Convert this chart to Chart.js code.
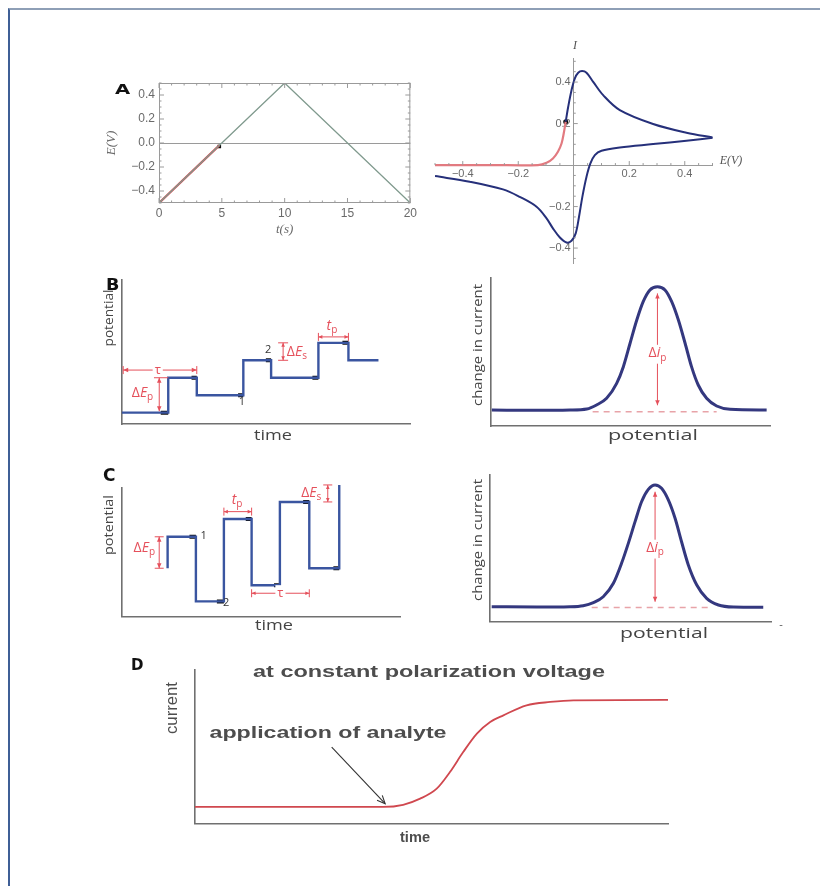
<!DOCTYPE html>
<html>
<head>
<meta charset="utf-8">
<script src="https://cdn.jsdelivr.net/npm/chart.js@4.4.1/dist/chart.umd.min.js"></script>
<style>
body{margin:0;background:#fff;width:820px;height:886px;position:relative;overflow:hidden}
.frame{position:absolute;left:8px;top:8px;width:830px;height:900px;border-top:2px solid #8e9fb6;border-left:2px solid #3f5f96}
canvas{position:absolute}
.tag{position:absolute;font-family:"DejaVu Sans",sans-serif;font-weight:bold;color:#111;line-height:1.2;transform-origin:left top;z-index:5}
</style>
</head>
<body>
<div class="frame"></div>

<canvas id="a1" width="320" height="170" style="left:100px;top:70px"></canvas>
<canvas id="a2" width="350" height="250" style="left:420px;top:30px"></canvas>
<canvas id="b1" width="320" height="180" style="left:100px;top:270px"></canvas>
<canvas id="b2" width="320" height="180" style="left:470px;top:270px"></canvas>
<canvas id="c1" width="320" height="190" style="left:100px;top:460px"></canvas>
<canvas id="c2" width="320" height="190" style="left:470px;top:460px"></canvas>
<canvas id="d1" width="580" height="200" style="left:110px;top:652px"></canvas>

<div class="tag" style="left:115px;top:81px;font-size:14px;transform:scaleX(1.4)">A</div>
<div class="tag" style="left:106px;top:275px;font-size:16px;transform:scaleX(1.1)">B</div>
<div class="tag" style="left:103px;top:465px;font-size:17px">C</div>
<div class="tag" style="left:131px;top:656px;font-size:15px">D</div>

<script>
// A: linear sweep E(t) and the cyclic voltammogram I(E)
const sweepT = [0, 10, 20];
const sweepE = [-0.5, 0.5, -0.5];
const sweepRedT = [0, 4.8];
const sweepRedE = [-0.5, -0.02];
const sweepDot = [4.8, -0.03];
const tTicks = [0, 5, 10, 15, 20];
const eTicks = [-0.4, -0.2, 0, 0.2, 0.4];

const cvRedE = [-0.5, -0.3, -0.129, -0.098, -0.075, -0.057, -0.044, -0.036, -0.029];
const cvRedI = [0, 0, 0, 0.011, 0.032, 0.064, 0.104, 0.153, 0.209];
const cvFwdE = [-0.029, -0.02, -0.008, 0.004, 0.016, 0.03, 0.046, 0.07, 0.106, 0.166, 0.286, 0.406, 0.505];
const cvFwdI = [0.209, 0.281, 0.361, 0.418, 0.445, 0.453, 0.445, 0.401, 0.337, 0.265, 0.198, 0.156, 0.132];
const cvRevE = [0.505, 0.406, 0.286, 0.166, 0.1, 0.076, 0.06, 0.046, 0.031, 0.019, 0.007, -0.008, -0.026, -0.05, -0.075, -0.098, -0.134, -0.195, -0.255, -0.375, -0.5];
const cvRevI = [0.132, 0.117, 0.101, 0.085, 0.069, 0.048, 0.008, -0.056, -0.153, -0.249, -0.329, -0.365, -0.373, -0.349, -0.305, -0.257, -0.201, -0.153, -0.117, -0.08, -0.053];
const cvTicks = [-0.4, -0.2, 0.2, 0.4];

// B: differential pulse waveform and response
const dpvT = [0, 0.62, 0.62, 1.0, 1.0, 1.62, 1.62, 1.99, 1.99, 2.62, 2.62, 3.02, 3.02, 3.42];
const dpvE = [0, 0, 2, 2, 1, 1, 3, 3, 2, 2, 4, 4, 3, 3];
const dpvMarkFrom = [0.52, 0.93, 1.55, 1.92, 2.54, 2.94];
const dpvMarkTo = [0.62, 1.0, 1.62, 1.99, 2.62, 3.02];
const dpvMarkE = [0, 2, 1, 3, 2, 4];
const dpvPeakX = [0.4, 16.5, 28.4, 34.4, 37.9, 41.5, 45.1, 47.5, 49.9, 52.3, 54.6, 57.0, 59.7, 62.4, 64.8, 67.2, 69.6, 71.9, 74.3, 77.3, 80.9, 85.7, 98.8];
const dpvPeakY = [10.8, 10.6, 10.8, 11.5, 14.2, 18.7, 28.8, 40.1, 55.9, 71.6, 84.0, 91.9, 94.1, 91.9, 84.0, 71.6, 55.9, 40.1, 27.7, 18.7, 13.5, 11.3, 10.8];

// C: square wave waveform and response
const swvT = [1.64, 1.64, 2.65, 2.65, 3.65, 3.65, 4.64, 4.64, 5.65, 5.65, 6.7, 6.7, 7.77, 7.77];
const swvE = [2.85, 4.7, 4.7, 0.9, 0.9, 5.75, 5.75, 1.85, 1.85, 6.75, 6.75, 2.85, 2.85, 7.75];
const swvMarkFrom = [2.42, 3.4, 4.43, 5.44, 6.48, 7.56];
const swvMarkTo = [2.65, 3.65, 4.64, 5.65, 6.7, 7.77];
const swvMarkE = [4.7, 0.9, 5.75, 1.85, 6.75, 2.85];
const swvPeakX = [0.6, 16.6, 28.4, 33.1, 36.7, 40.2, 43.8, 46.7, 49.1, 51.5, 53.8, 56.2, 58.6, 60.9, 63.3, 65.7, 68.0, 70.4, 73.4, 76.9, 81.1, 86.4, 97.0];
const swvPeakY = [10.2, 10.0, 10.2, 10.9, 13.0, 17.0, 26.2, 39.8, 53.4, 68.2, 81.8, 90.2, 93.2, 90.9, 83.0, 70.5, 54.5, 38.7, 25.0, 15.9, 11.4, 10.0, 9.8];

// D: amperometric response at constant voltage
const ampT = [0, 39.8, 44.0, 47.6, 51.1, 53.9, 56.7, 59.6, 62.4, 65.2, 70.1, 75.1, 80.0, 100];
const ampI = [10.9, 10.9, 12.3, 16.3, 22.8, 33.6, 46.6, 58.6, 66.2, 70.5, 77.0, 79.2, 80.3, 80.5];

const FAM = '"Open Sans", "DejaVu Sans", sans-serif';
const RED = '#e5505b';
const BLUE = '#3a55a0';
const xy = (xs, ys) => xs.map((x, i) => ({x: x, y: ys[i]}));
const marks = (a, b, e) => a.flatMap((s, i) => [{x: s, y: e[i]}, {x: b[i], y: e[i]}, {x: b[i], y: null}]);

function P(c, x, y) { return [c.scales.x.getPixelForValue(x), c.scales.y.getPixelForValue(y)]; }

// plain text at page position
function txt(c, s, x, y, o) {
  const ctx = c.ctx;
  ctx.save();
  ctx.translate(x - c.canvas.offsetLeft, y - c.canvas.offsetTop);
  if (o.rot) ctx.rotate(o.rot);
  ctx.font = o.font;
  ctx.fillStyle = o.color || '#444';
  ctx.textAlign = 'center';
  ctx.textBaseline = 'middle';
  if (o.w) ctx.scale(o.w / ctx.measureText(s).width, 1);
  ctx.fillText(s, 0, 0);
  ctx.restore();
}

// label with italic / subscript parts at data position
function rich(c, parts, x, y, o) {
  const ctx = c.ctx, p = P(c, x, y), size = o.size || 14;
  ctx.save();
  ctx.textBaseline = 'middle';
  const fonts = parts.map(q => (q[1].includes('i') ? 'italic ' : '') + (q[1].includes('s') ? Math.round(size * 0.72) : size) + 'px ' + FAM);
  const ws = parts.map((q, i) => { ctx.font = fonts[i]; return ctx.measureText(q[0]).width; });
  const tot = ws.reduce((a, b) => a + b, 0);
  let sx = o.align === 'right' ? p[0] - tot : o.align === 'left' ? p[0] : p[0] - tot / 2;
  if (o.bg) { ctx.fillStyle = '#fff'; ctx.fillRect(sx - 2, p[1] - size * 0.62, tot + 4, size * 1.35); }
  ctx.fillStyle = o.color || RED;
  parts.forEach((q, i) => {
    ctx.font = fonts[i];
    ctx.fillText(q[0], sx, p[1] + (q[1].includes('s') ? size * 0.3 : 0));
    sx += ws[i];
  });
  ctx.restore();
}

function head(ctx, x, y, a, s, open) {
  const w = s * 0.45;
  ctx.beginPath();
  ctx.moveTo(x - s * Math.cos(a) + w * Math.sin(a), y - s * Math.sin(a) - w * Math.cos(a));
  ctx.lineTo(x, y);
  ctx.lineTo(x - s * Math.cos(a) - w * Math.sin(a), y - s * Math.sin(a) + w * Math.cos(a));
  if (open) { ctx.stroke(); } else { ctx.closePath(); ctx.fill(); }
}

// dimension arrow between two data points
function dim(c, x1, y1, x2, y2, o) {
  o = o || {};
  const ctx = c.ctx, p = P(c, x1, y1), q = P(c, x2, y2);
  const a = Math.atan2(q[1] - p[1], q[0] - p[0]);
  ctx.save();
  ctx.strokeStyle = ctx.fillStyle = o.color || RED;
  ctx.lineWidth = o.w || 1;
  ctx.beginPath(); ctx.moveTo(p[0], p[1]); ctx.lineTo(q[0], q[1]); ctx.stroke();
  head(ctx, q[0], q[1], a, o.hs || 5, o.open);
  if (!o.single) head(ctx, p[0], p[1], a + Math.PI, o.hs || 5, o.open);
  if (o.bar) {
    const nx = -Math.sin(a) * o.bar / 2, ny = Math.cos(a) * o.bar / 2;
    [p, q].forEach(r => { ctx.beginPath(); ctx.moveTo(r[0] - nx, r[1] - ny); ctx.lineTo(r[0] + nx, r[1] + ny); ctx.stroke(); });
  }
  ctx.restore();
}

function seg(c, x1, y1, x2, y2, color, w) {
  const ctx = c.ctx, p = P(c, x1, y1), q = P(c, x2, y2);
  ctx.save(); ctx.strokeStyle = color; ctx.lineWidth = w;
  ctx.beginPath(); ctx.moveTo(p[0], p[1]); ctx.lineTo(q[0], q[1]); ctx.stroke();
  ctx.restore();
}

function axisOpt(r) {
  return { type: 'linear', min: r[0], max: r[1], ticks: { display: false },
    grid: { display: false, drawTicks: false }, border: { color: '#707070', width: 1.6 } };
}

function sketch(id, datasets, pad, xr, yr, draw) {
  return new Chart(document.getElementById(id), {
    type: 'line',
    data: { datasets: datasets },
    options: {
      responsive: false, animation: false, events: [],
      layout: { padding: pad },
      plugins: { legend: { display: false }, tooltip: { enabled: false } },
      elements: { point: { radius: 0 }, line: { borderCapStyle: 'butt' } },
      scales: { x: axisOpt(xr), y: axisOpt(yr) }
    },
    plugins: [{ id: 'deco_' + id, afterDatasetsDraw: draw }]
  });
}

const tickFont = { family: '"Liberation Sans", sans-serif', size: 12 };
const fmt = v => (v < 0 ? '\u2212' : '') + Math.abs(v).toFixed(1);

// ---------- A left ----------
new Chart(document.getElementById('a1'), {
  type: 'line',
  data: { datasets: [
    { data: xy(sweepT, sweepE), borderColor: '#809a8e', borderWidth: 1.3 },
    { data: xy(sweepRedT, sweepRedE), borderColor: '#d9434b', borderWidth: 2.2 },
    { data: [{x: sweepDot[0], y: sweepDot[1]}], showLine: false, pointRadius: 2.5, pointStyle: 'rect', pointBackgroundColor: '#111', pointBorderWidth: 0 }
  ]},
  options: {
    responsive: false, animation: false, events: [],
    layout: { padding: { left: 0, top: 13, right: 6, bottom: 0 } },
    plugins: { legend: { display: false }, tooltip: { enabled: false } },
    elements: { point: { radius: 0 } },
    scales: {
      x: { type: 'linear', min: 0, max: 20,
        afterBuildTicks: s => { s.ticks = tTicks.map(v => ({value: v})); },
        afterFit: s => { s.height = 37; },
        ticks: { font: tickFont, color: '#6a6a6a', padding: 3, maxRotation: 0 },
        grid: { display: false, drawTicks: false }, border: { display: false },
        title: { display: true, text: 't(s)', color: '#6a6a6a', font: { family: '"Liberation Serif", serif', size: 13, style: 'italic' }, padding: { top: 0, bottom: 3 } } },
      y: { type: 'linear', min: -0.5, max: 0.5,
        afterBuildTicks: s => { s.ticks = eTicks.map(v => ({value: v})); },
        afterFit: s => { s.width = 59; },
        ticks: { font: tickFont, color: '#6a6a6a', padding: 4, callback: fmt },
        grid: { drawTicks: false, color: c => c.tick && c.tick.value === 0 ? '#9a9a9a' : 'rgba(0,0,0,0)' },
        border: { display: false },
        title: { display: true, text: 'E(V)', color: '#6a6a6a', font: { family: '"Liberation Serif", serif', size: 13, style: 'italic' }, padding: { top: 4, bottom: 0 } } }
    }
  },
  plugins: [{ id: 'frameA', afterDatasetsDraw(c) {
    const ctx = c.ctx, a = c.chartArea;
    ctx.save();
    ctx.strokeStyle = '#9a9a9a'; ctx.lineWidth = 1;
    ctx.strokeRect(a.left + 0.5, a.top + 0.5, a.width - 1, a.height - 1);
    for (let k = 0; k <= 20; k++) {
      const x = c.scales.x.getPixelForValue(k), L = k % 5 === 0 ? 5 : 2.5;
      ctx.beginPath(); ctx.moveTo(x, a.bottom); ctx.lineTo(x, a.bottom - L);
      ctx.moveTo(x, a.top); ctx.lineTo(x, a.top + L); ctx.stroke();
    }
    for (let k = -10; k <= 10; k++) {
      const y = c.scales.y.getPixelForValue(k * 0.05), L = k % 4 === 0 ? 5 : 2.5;
      ctx.beginPath(); ctx.moveTo(a.left, y); ctx.lineTo(a.left + L, y);
      ctx.moveTo(a.right, y); ctx.lineTo(a.right - L, y); ctx.stroke();
    }
    ctx.restore();
  } }]
});

// ---------- A right ----------
new Chart(document.getElementById('a2'), {
  type: 'line',
  data: { datasets: [
    { data: xy(cvRevE, cvRevI), borderColor: '#26307a', borderWidth: 2, tension: 0.35 },
    { data: xy(cvFwdE, cvFwdI), borderColor: '#26307a', borderWidth: 2, tension: 0.35 },
    { data: xy(cvRedE, cvRedI), borderColor: '#e27a80', borderWidth: 2.2, tension: 0.35 },
    { data: [{x: cvRedE[cvRedE.length - 1], y: cvRedI[cvRedI.length - 1]}], showLine: false, pointRadius: 2.5, pointBackgroundColor: '#111', pointBorderWidth: 0 }
  ]},
  options: {
    responsive: false, animation: false, events: [],
    layout: { padding: { left: 15, top: 28, right: 57.5, bottom: 17 } },
    plugins: { legend: { display: false }, tooltip: { enabled: false } },
    elements: { point: { radius: 0 } },
    scales: {
      x: { type: 'linear', min: -0.5, max: 0.5, position: { y: 0 },
        afterBuildTicks: s => { s.ticks = cvTicks.map(v => ({value: v})); },
        ticks: { font: { family: '"Liberation Sans", sans-serif', size: 11 }, color: '#6a6a6a', padding: 2, maxRotation: 0, callback: fmt },
        grid: { display: false, drawTicks: false }, border: { color: '#9a9a9a', width: 1 } },
      y: { type: 'linear', min: -0.472, max: 0.516, position: { x: 0 },
        afterBuildTicks: s => { s.ticks = cvTicks.map(v => ({value: v})); },
        ticks: { font: { family: '"Liberation Sans", sans-serif', size: 11 }, color: '#6a6a6a', padding: 4, callback: v => fmt(v) + ' ' },
        grid: { display: false, drawTicks: false }, border: { color: '#9a9a9a', width: 1 } }
    }
  },
  plugins: [{ id: 'axesCV', afterDatasetsDraw(c) {
    const ctx = c.ctx, x0 = c.scales.x.getPixelForValue(0), y0 = c.scales.y.getPixelForValue(0);
    ctx.save(); ctx.strokeStyle = '#9a9a9a'; ctx.lineWidth = 1;
    for (let k = -10; k <= 10; k++) {
      if (k === 0) continue;
      const x = c.scales.x.getPixelForValue(k * 0.05), L = k % 4 === 0 ? 4 : 2;
      ctx.beginPath(); ctx.moveTo(x, y0); ctx.lineTo(x, y0 - L); ctx.stroke();
    }
    for (let k = -9; k <= 10; k++) {
      if (k === 0) continue;
      const y = c.scales.y.getPixelForValue(k * 0.05), L = k % 4 === 0 ? 4 : 2;
      ctx.beginPath(); ctx.moveTo(x0, y); ctx.lineTo(x0 + L, y); ctx.stroke();
    }
    ctx.restore();
    txt(c, 'I', 575, 46, { font: 'italic 12px "Liberation Serif", serif', color: '#555' });
    txt(c, 'E(V)', 731, 161, { font: 'italic 12px "Liberation Serif", serif', color: '#555' });
  } }]
});

// ---------- B left ----------
sketch('b1', [
  { data: xy(dpvT, dpvE), borderColor: BLUE, borderWidth: 2.4 },
  { data: marks(dpvMarkFrom, dpvMarkTo, dpvMarkE), borderColor: '#111', borderWidth: 4, spanGaps: false }
], { left: 21.7, top: 10, right: 10, bottom: 26 }, [0, 3.84], [-0.65, 7.6], c => {
  dim(c, 0.02, 2.44, 1.0, 2.44, { bar: 8 });
  rich(c, [['\u03c4', '']], 0.48, 2.44, { size: 13, bg: true });
  seg(c, 0.43, 2, 0.62, 2, RED, 1);
  dim(c, 0.5, 2, 0.5, 0.08, {});
  rich(c, [['\u0394', ''], ['E', 'i'], ['p', 's']], 0.42, 1.13, { align: 'right' });
  dim(c, 2.15, 4, 2.15, 3, { bar: 10, hs: 4 });
  rich(c, [['\u0394', ''], ['E', 'i'], ['s', 's']], 2.2, 3.45, { align: 'left' });
  dim(c, 2.62, 4.34, 3.02, 4.34, { bar: 8, hs: 4 });
  rich(c, [['t', 'i'], ['p', 's']], 2.8, 4.95, {});
  rich(c, [['1', '']], 1.6, 0.6, { size: 11, color: '#333' });
  rich(c, [['2', '']], 1.95, 3.6, { size: 11, color: '#333' });
  txt(c, 'potential', 109, 318, { font: '13px ' + FAM, rot: -Math.PI / 2, w: 57, color: '#444' });
  txt(c, 'time', 273, 436, { font: '15px ' + FAM, w: 38, color: '#444' });
});

// ---------- B right ----------
sketch('b2', [
  { data: [{x: 36.5, y: 9.7}, {x: 80.9, y: 9.7}], borderColor: '#e8a3a8', borderWidth: 1.5, borderDash: [6, 5] },
  { data: xy(dpvPeakX, dpvPeakY), borderColor: '#34387f', borderWidth: 3, cubicInterpolationMode: 'monotone' }
], { left: 20.7, top: 8, right: 20, bottom: 24 }, [0, 100], [0, 100], c => {
  dim(c, 59.7, 89.6, 59.7, 14, {});
  rich(c, [['\u0394', ''], ['i', 'i'], ['p', 's']], 59.7, 49, { bg: true });
  txt(c, 'change in current', 478, 345, { font: '13px ' + FAM, rot: -Math.PI / 2, w: 122, color: '#444' });
  txt(c, 'potential', 653, 436, { font: '15px ' + FAM, w: 90, color: '#444' });
});

// ---------- C left ----------
sketch('c1', [
  { data: xy(swvT, swvE), borderColor: BLUE, borderWidth: 2.4, clip: 8 },
  { data: marks(swvMarkFrom, swvMarkTo, swvMarkE), borderColor: '#111', borderWidth: 4, spanGaps: false }
], { left: 21.7, top: 28, right: 20, bottom: 33.3 }, [0, 9.94], [0, 7.57], c => {
  dim(c, 1.34, 4.7, 1.34, 2.85, { bar: 9 });
  rich(c, [['\u0394', ''], ['E', 'i'], ['p', 's']], 1.19, 4.02, { align: 'right' });
  rich(c, [['1', '']], 2.93, 4.75, { size: 11, color: '#333' });
  rich(c, [['2', '']], 3.73, 0.8, { size: 11, color: '#333' });
  dim(c, 3.65, 6.18, 4.64, 6.18, { bar: 8, hs: 4 });
  rich(c, [['t', 'i'], ['p', 's']], 4.12, 6.85, {});
  dim(c, 4.64, 1.38, 6.7, 1.38, { bar: 8, hs: 4 });
  rich(c, [['\u03c4', '']], 5.67, 1.38, { size: 13, bg: true });
  dim(c, 7.36, 7.75, 7.36, 6.75, { bar: 9, hs: 4 });
  rich(c, [['\u0394', ''], ['E', 'i'], ['s', 's']], 7.13, 7.26, { align: 'right' });
  txt(c, 'potential', 109, 525, { font: '13px ' + FAM, rot: -Math.PI / 2, w: 60, color: '#444' });
  txt(c, 'time', 274, 626, { font: '15px ' + FAM, w: 38, color: '#444' });
});

// ---------- C right ----------
sketch('c2', [
  { data: [{x: 36.1, y: 9.6}, {x: 78.2, y: 9.6}], borderColor: '#e8a3a8', borderWidth: 1.5, borderDash: [6, 5] },
  { data: xy(swvPeakX, swvPeakY), borderColor: '#34387f', borderWidth: 3, cubicInterpolationMode: 'monotone' }
], { left: 20, top: 15, right: 18.3, bottom: 28.3 }, [0, 100], [0, 100], c => {
  dim(c, 58.6, 88.6, 58.6, 13.6, {});
  rich(c, [['\u0394', ''], ['i', 'i'], ['p', 's']], 58.6, 50, { bg: true });
  txt(c, 'change in current', 478, 540, { font: '13px ' + FAM, rot: -Math.PI / 2, w: 122, color: '#444' });
  txt(c, 'potential', 664, 634, { font: '15px ' + FAM, w: 88, color: '#444' });
  txt(c, '-', 781, 625, { font: '11px ' + FAM, color: '#555' });
});

// ---------- D ----------
sketch('d1', [
  { data: xy(ampT, ampI), borderColor: '#d0484f', borderWidth: 1.8, cubicInterpolationMode: 'monotone' }
], { left: 85, top: 18, right: 22, bottom: 28.3 }, [0, 100], [0, 100], c => {
  dim(c, 28.9, 49.9, 40.2, 13.0, { color: '#333', w: 1.1, hs: 8, open: true, single: true });
  const g = '#4d4d4d';
  txt(c, 'at constant polarization voltage', 429, 673, { font: 'bold 16px "Liberation Sans", sans-serif', w: 352, color: g });
  txt(c, 'application of analyte', 328, 734, { font: 'bold 16px "Liberation Sans", sans-serif', w: 237, color: g });
  txt(c, 'current', 172.5, 708, { font: '16px "Liberation Sans", sans-serif', rot: -Math.PI / 2, w: 52, color: g });
  txt(c, 'time', 415, 838, { font: 'bold 14px "Liberation Sans", sans-serif', w: 30, color: g });
});
</script>
</body>
</html>
